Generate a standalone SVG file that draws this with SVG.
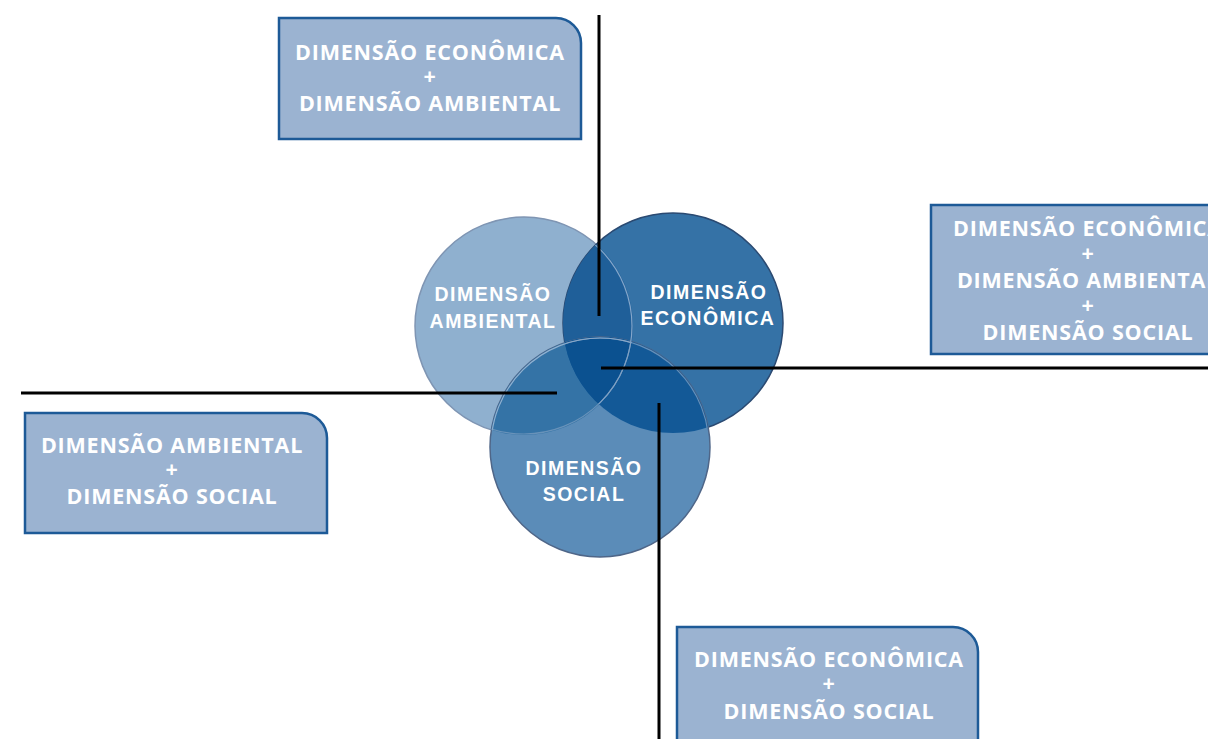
<svg xmlns="http://www.w3.org/2000/svg" width="1208" height="739" viewBox="0 0 1208 739">
<style>
.box{fill:#9bb3d1;stroke:#1d5a97;stroke-width:2.5}
.bt{font-family:"Open Sans","Liberation Sans",sans-serif;font-weight:700;font-size:21.5px;fill:#fff;text-anchor:middle;letter-spacing:0.8px}
.ct{font-family:"Liberation Sans",Arial,sans-serif;font-weight:700;font-size:19.5px;fill:#fff;text-anchor:middle;letter-spacing:1.5px}
.ln{stroke:#000;stroke-width:3;fill:none}
</style>
<defs>
<clipPath id="cA"><circle cx="524" cy="326" r="109"/></clipPath>
<clipPath id="cE"><circle cx="673" cy="323" r="110"/></clipPath>
<clipPath id="cS"><circle cx="600" cy="447" r="110"/></clipPath>
</defs>
<rect width="1208" height="739" fill="#fff"/>
<g id="venn">
<circle id="circ-ambiental" cx="524" cy="326" r="109" fill="#8fb0cf" stroke="#7f95b3" stroke-width="1.5"/>
<circle id="circ-economica" cx="673" cy="323" r="110" fill="#3572a6" stroke="#2b4a72" stroke-width="1.5"/>
<g clip-path="url(#cA)"><circle cx="673" cy="323" r="110" fill="#1f5f99"/></g>
<circle id="circ-social" cx="600" cy="447" r="110" fill="#5b8cb8" stroke="#4f6688" stroke-width="1.5"/>
<g clip-path="url(#cS)"><circle cx="524" cy="326" r="109" fill="#3473a6"/></g>
<g clip-path="url(#cS)"><circle cx="673" cy="323" r="110" fill="#135997"/></g>
<g clip-path="url(#cS)"><g clip-path="url(#cA)"><circle cx="673" cy="323" r="110" fill="#0b5190"/></g></g>
<g clip-path="url(#cE)"><circle cx="524" cy="326" r="108" fill="none" stroke="#9db8d6" stroke-width="1.2" opacity="0.8"/></g>
<g clip-path="url(#cA)"><circle cx="600" cy="447" r="109" fill="none" stroke="#a9c1db" stroke-width="1.2" opacity="0.8"/></g>
<g clip-path="url(#cE)"><circle cx="600" cy="447" r="109" fill="none" stroke="#8aa6c6" stroke-width="1.2" opacity="0.7"/></g>
<g clip-path="url(#cS)"><circle cx="524" cy="326" r="108" fill="none" stroke="#7f9fc2" stroke-width="1.2" opacity="0.7"/></g>
<text class="ct" x="493" y="301">DIMENSÃO</text>
<text class="ct" x="493" y="328">AMBIENTAL</text>
<text class="ct" x="709" y="299">DIMENSÃO</text>
<text class="ct" x="708" y="325">ECONÔMICA</text>
<text class="ct" x="584" y="475">DIMENSÃO</text>
<text class="ct" x="584" y="501">SOCIAL</text>
</g>
<g id="connectors">
<line class="ln" x1="599" y1="15" x2="599" y2="316"/>
<line class="ln" x1="601" y1="368" x2="1208" y2="368"/>
<line class="ln" x1="21" y1="393" x2="557" y2="393"/>
<line class="ln" x1="659" y1="403" x2="659" y2="739"/>
</g>
<g id="box-econ-amb">
<path class="box" d="M279,18 H556 A25,25 0 0 1 581,43 V139 H279 Z"/>
<text class="bt" x="430" y="60">DIMENSÃO ECONÔMICA</text>
<text class="bt" x="430" y="84">+</text>
<text class="bt" x="430" y="111">DIMENSÃO AMBIENTAL</text>
</g>
<g id="box-all">
<path class="box" d="M1210,205 H931 V354 H1210"/>
<text class="bt" x="1088" y="236">DIMENSÃO ECONÔMICA</text>
<text class="bt" x="1088" y="261">+</text>
<text class="bt" x="1088" y="288">DIMENSÃO AMBIENTAL</text>
<text class="bt" x="1088" y="313">+</text>
<text class="bt" x="1088" y="340">DIMENSÃO SOCIAL</text>
</g>
<g id="box-amb-soc">
<path class="box" d="M25,413 H302 A25,25 0 0 1 327,438 V533 H25 Z"/>
<text class="bt" x="172" y="453">DIMENSÃO AMBIENTAL</text>
<text class="bt" x="172" y="477">+</text>
<text class="bt" x="172" y="504">DIMENSÃO SOCIAL</text>
</g>
<g id="box-econ-soc">
<path class="box" d="M677,741 V627 H953 A25,25 0 0 1 978,652 V741"/>
<text class="bt" x="829" y="667">DIMENSÃO ECONÔMICA</text>
<text class="bt" x="829" y="691">+</text>
<text class="bt" x="829" y="719">DIMENSÃO SOCIAL</text>
</g>
</svg>
